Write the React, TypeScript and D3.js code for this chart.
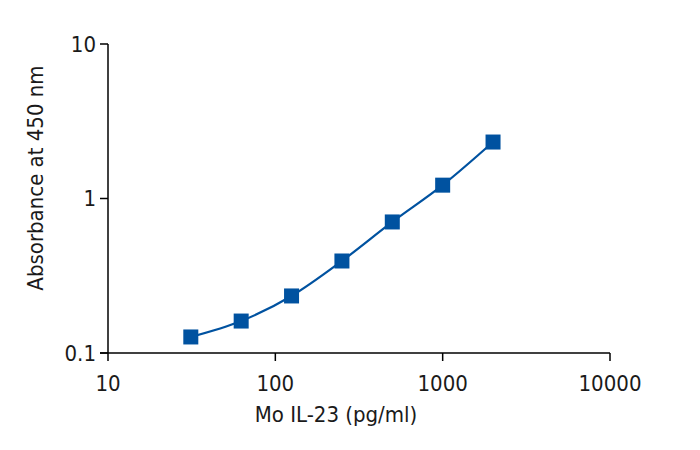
import React from "react";
import * as d3 from "d3";

const concentrations = [31.25, 62.5, 125, 250, 500, 1000, 2000];
const absorbance = [0.127, 0.161, 0.234, 0.394, 0.705, 1.22, 2.32];
const xTicks = [10, 100, 1000, 10000];
const yTicks = [0.1, 1, 10];
const xLabel = "Mo IL-23 (pg/ml)";
const yLabel = "Absorbance at 450 nm";

const W = 700;
const H = 450;
const FONT = "'Liberation Sans Narrow', 'DejaVu Sans Condensed', 'Roboto', sans-serif";
const BLUE = "#0052a0";
const FS = 22;

export default function App() {
  const x = d3.scaleLog().domain([10, 10000]).range([108, 610]);
  const y = d3.scaleLog().domain([0.1, 10]).range([353, 44]);
  const pts: [number, number][] = concentrations.map((c, i) => [x(c), y(absorbance[i])]);
  const line = d3.line().curve(d3.curveMonotoneX)(pts) || "";
  const x0 = x(10);
  const y0 = y(0.1);
  return (
    <svg width={W} height={H} style={{ display: "block", position: "absolute", left: 0, top: 0 }}>
      <rect width={W} height={H} fill="#fff" />
      <line x1={x0} x2={x0} y1={y(10)} y2={y0} stroke="#000" strokeWidth={1.5} />
      <line x1={x0 - 8} x2={x(10000)} y1={y0} y2={y0} stroke="#000" strokeWidth={1.5} />
      {yTicks.map((t) => (
        <g key={"y" + t}>
          <line x1={x0 - 8} x2={x0} y1={y(t)} y2={y(t)} stroke="#000" strokeWidth={1.5} />
          <text x={x0 - 12} y={y(t)} dy="0.35em" textAnchor="end" fontFamily={FONT} fontSize={FS} fill="#1a1a1a">
            {t}
          </text>
        </g>
      ))}
      {xTicks.map((t) => (
        <g key={"x" + t}>
          <line x1={x(t)} x2={x(t)} y1={y0} y2={y0 + 8} stroke="#000" strokeWidth={1.5} />
          <text x={x(t)} y={y0 + 38} textAnchor="middle" fontFamily={FONT} fontSize={FS} fill="#1a1a1a">
            {t}
          </text>
        </g>
      ))}
      <text x={336} y={422} textAnchor="middle" fontFamily={FONT} fontSize={FS} fill="#1a1a1a">
        {xLabel}
      </text>
      <text
        transform={`translate(43,178) rotate(-90)`}
        textAnchor="middle"
        fontFamily={FONT}
        fontSize={FS}
        fill="#1a1a1a"
      >
        {yLabel}
      </text>
      <path d={line} fill="none" stroke={BLUE} strokeWidth={2.2} />
      {pts.map(([px, py], i) => (
        <rect key={i} x={px - 7.5} y={py - 7.5} width={15} height={15} fill={BLUE} />
      ))}
    </svg>
  );
}
